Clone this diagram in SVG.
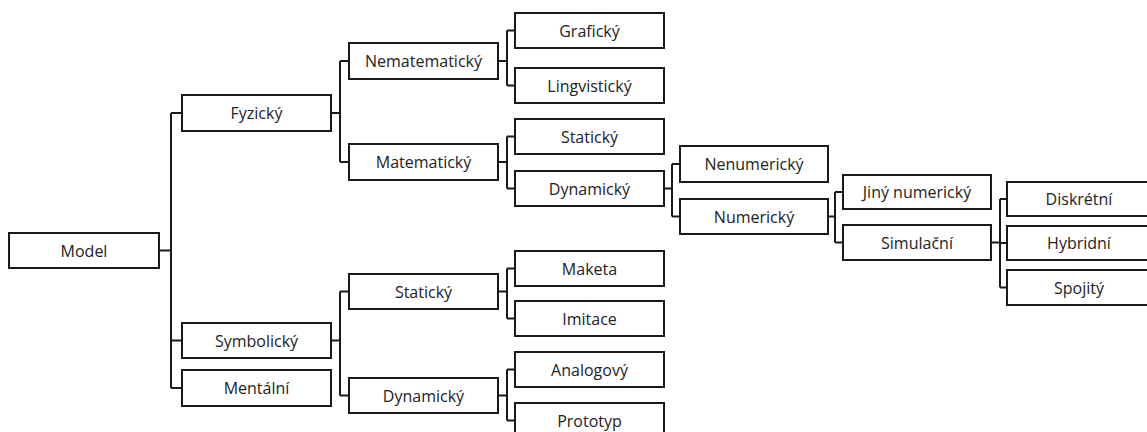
<svg xmlns="http://www.w3.org/2000/svg" width="1147" height="432" viewBox="0 0 1147 432">
<style>
.b rect{fill:#fff;stroke:#1a1a1a;stroke-width:2}
.b text{font-family:"Open Sans","Noto Sans",sans-serif;font-size:16px;fill:#222;text-anchor:middle}
.c path{fill:none;stroke:#1a1a1a;stroke-width:2}
</style>
<rect width="1147" height="432" fill="#fff"/>
<g class="c" id="connectors">
<path d="M159 250.5H171M171 113V388M171 113H182M171 340.5H182M171 388H182"/>
<path d="M331 113H340M340 61V162M340 61H349M340 162H349"/>
<path d="M331 340.5H340M340 291.5V395.5M340 291.5H349M340 395.5H349"/>
<path d="M498 61H507M507 30.5V85.5M507 30.5H515M507 85.5H515"/>
<path d="M498 162H507M507 136.5V188.5M507 136.5H515M507 188.5H515"/>
<path d="M498 291.5H507M507 268.5V318.5M507 268.5H515M507 318.5H515"/>
<path d="M498 395.5H507M507 369.5V420.5M507 369.5H515M507 420.5H515"/>
<path d="M664 188.5H672M672 164V216.5M672 164H680M672 216.5H680"/>
<path d="M828 216.5H835M835 192V242.5M835 192H843M835 242.5H843"/>
<path d="M991 242.5H1000M1000 199V287.5M1000 199H1007M1000 243H1007M1000 287.5H1007"/>
</g>
<g class="b" id="model"><rect x="9" y="233" width="150" height="35"/><text x="84" y="256.5">Model</text></g>
<g class="b" id="fyzicky"><rect x="182" y="95" width="149" height="36"/><text x="256.5" y="119">Fyzický</text></g>
<g class="b" id="symbolicky"><rect x="182" y="323" width="149" height="35"/><text x="256.5" y="346.5">Symbolický</text></g>
<g class="b" id="mentalni"><rect x="182" y="370" width="149" height="36"/><text x="256.5" y="394">Mentální</text></g>
<g class="b" id="nematematicky"><rect x="349" y="43" width="149" height="36"/><text x="423.5" y="67">Nematematický</text></g>
<g class="b" id="matematicky"><rect x="349" y="144" width="149" height="36"/><text x="423.5" y="168">Matematický</text></g>
<g class="b" id="staticky2"><rect x="349" y="274" width="149" height="35"/><text x="423.5" y="297.5">Statický</text></g>
<g class="b" id="dynamicky2"><rect x="349" y="378" width="149" height="35"/><text x="423.5" y="401.5">Dynamický</text></g>
<g class="b" id="graficky"><rect x="515" y="13" width="149" height="35"/><text x="589.5" y="36.5">Grafický</text></g>
<g class="b" id="lingvisticky"><rect x="515" y="68" width="149" height="35"/><text x="589.5" y="91.5">Lingvistický</text></g>
<g class="b" id="staticky3"><rect x="515" y="119" width="149" height="35"/><text x="589.5" y="142.5">Statický</text></g>
<g class="b" id="dynamicky3"><rect x="515" y="171" width="149" height="35"/><text x="589.5" y="194.5">Dynamický</text></g>
<g class="b" id="maketa"><rect x="515" y="251" width="149" height="35"/><text x="589.5" y="274.5">Maketa</text></g>
<g class="b" id="imitace"><rect x="515" y="301" width="149" height="35"/><text x="589.5" y="324.5">Imitace</text></g>
<g class="b" id="analogovy"><rect x="515" y="352" width="149" height="35"/><text x="589.5" y="375.5">Analogový</text></g>
<g class="b" id="prototyp"><rect x="515" y="403" width="149" height="36"/><text x="589.5" y="426.5">Prototyp</text></g>
<g class="b" id="nenumericky"><rect x="680" y="146" width="148" height="36"/><text x="754" y="170">Nenumerický</text></g>
<g class="b" id="numericky"><rect x="680" y="199" width="148" height="35"/><text x="754" y="222.5">Numerický</text></g>
<g class="b" id="jiny"><rect x="843" y="175" width="148" height="34"/><text x="917" y="198">Jiný numerický</text></g>
<g class="b" id="simulacni"><rect x="843" y="225" width="148" height="35"/><text x="917" y="248.5">Simulační</text></g>
<g class="b" id="diskretni"><rect x="1007" y="182" width="150" height="34"/><text x="1079" y="205">Diskrétní</text></g>
<g class="b" id="hybridni"><rect x="1007" y="226" width="150" height="34"/><text x="1079" y="249">Hybridní</text></g>
<g class="b" id="spojity"><rect x="1007" y="270" width="150" height="35"/><text x="1079" y="293.5">Spojitý</text></g>
</svg>
